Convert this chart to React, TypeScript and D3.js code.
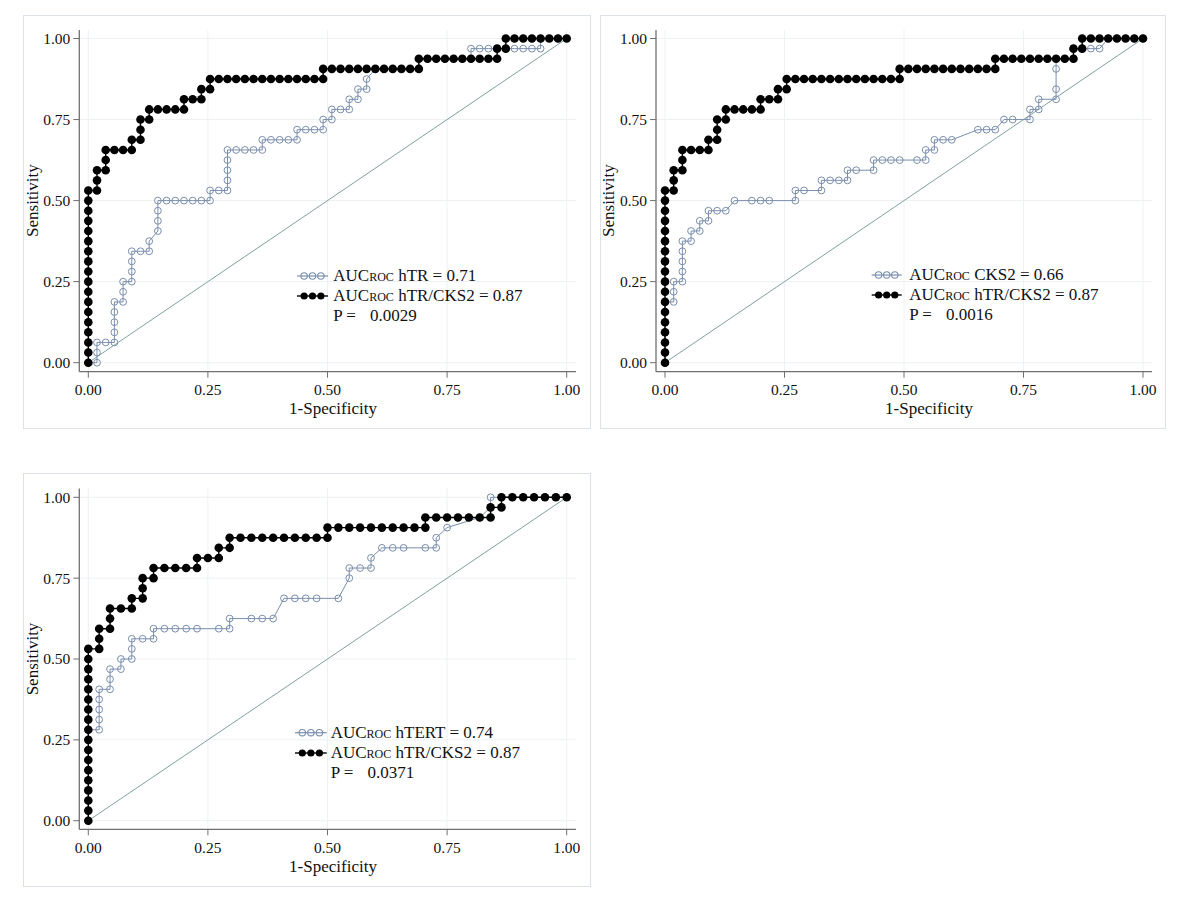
import React from "react";
import * as d3 from "d3";

// ---------- data (counts: false positives, true positives) ----------
const N_POS = 32;
const N_NEG_AB = 55; // panels 1 and 2
const N_NEG_C = 44; // panel 3

// hTR/CKS2 combination, panels 1 and 2
const comboAB: [number, number][] = [
  [0,0],[0,1],[0,2],[0,3],[0,4],[0,5],[0,6],[0,7],[0,8],[0,9],[0,10],[0,11],[0,12],[0,13],[0,14],[0,15],[0,16],[0,17],
  [1,17],[1,18],[1,19],[2,19],[2,20],[2,21],[3,21],[4,21],[5,21],[5,22],[6,22],[6,23],[6,24],[7,24],[7,25],
  [8,25],[9,25],[10,25],[11,25],[11,26],[12,26],[13,26],[13,27],[14,27],[14,28],[15,28],[16,28],[17,28],[18,28],
  [19,28],[20,28],[21,28],[22,28],[23,28],[24,28],[25,28],[26,28],[27,28],[27,29],[28,29],[29,29],[30,29],[31,29],
  [32,29],[33,29],[34,29],[35,29],[36,29],[37,29],[38,29],[38,30],[39,30],[40,30],[41,30],[42,30],[43,30],[44,30],
  [45,30],[46,30],[47,30],[47,31],[48,31],[48,32],[49,32],[50,32],[51,32],[52,32],[53,32],[54,32],[55,32],
];

// hTR alone, panel 1
const hTR: [number, number][] = [
  [0,0],[1,0],[1,1],[1,2],[2,2],[3,2],[3,3],[3,4],[3,5],[3,6],[4,6],[4,7],[4,8],[5,8],[5,9],[5,10],[5,11],[6,11],
  [7,11],[7,12],[8,13],[8,14],[8,15],[8,16],[9,16],[10,16],[11,16],[12,16],[13,16],[14,16],[14,17],[15,17],[16,17],
  [16,18],[16,19],[16,20],[16,21],[17,21],[18,21],[19,21],[20,21],[20,22],[21,22],[22,22],[23,22],[24,22],[24,23],
  [25,23],[26,23],[27,23],[27,24],[28,24],[28,25],[29,25],[30,25],[30,26],[31,26],[31,27],[32,27],[32,28],[33,29],
  [34,29],[35,29],[36,29],[37,29],[38,29],[38,30],[39,30],[40,30],[41,30],[42,30],[43,30],[44,30],[44,31],[45,31],
  [46,31],[47,31],[48,31],[49,31],[50,31],[51,31],[52,31],[52,32],[53,32],[54,32],[55,32],
];

// CKS2 alone, panel 2
const CKS2: [number, number][] = [
  [0,0],[0,1],[0,2],[0,3],[0,4],[0,5],[0,6],[1,6],[1,7],[1,8],[2,8],[2,9],[2,10],[2,11],[2,12],[3,12],[3,13],[4,13],
  [4,14],[5,14],[5,15],[6,15],[7,15],[8,16],[10,16],[11,16],[12,16],[15,16],[15,17],[16,17],[18,17],[18,18],[19,18],
  [20,18],[21,18],[21,19],[22,19],[24,19],[24,20],[25,20],[26,20],[27,20],[29,20],[30,20],[30,21],[31,21],[31,22],
  [32,22],[33,22],[36,23],[37,23],[38,23],[39,24],[40,24],[42,24],[42,25],[43,25],[43,26],[45,26],[45,27],[45,29],
  [45,30],[46,30],[47,30],[47,31],[48,31],[49,31],[50,31],[51,32],[52,32],[53,32],[54,32],[55,32],
];

// hTR/CKS2 combination, panel 3
const comboC: [number, number][] = [
  [0,0],[0,1],[0,2],[0,3],[0,4],[0,5],[0,6],[0,7],[0,8],[0,9],[0,10],[0,11],[0,12],[0,13],[0,14],[0,15],[0,16],[0,17],
  [1,17],[1,18],[1,19],[2,19],[2,20],[2,21],[3,21],[4,21],[4,22],[5,22],[5,23],[5,24],[6,24],[6,25],[7,25],[8,25],
  [9,25],[10,25],[10,26],[11,26],[12,26],[12,27],[13,27],[13,28],[14,28],[15,28],[16,28],[17,28],[18,28],[19,28],
  [20,28],[21,28],[22,28],[22,29],[23,29],[24,29],[25,29],[26,29],[27,29],[28,29],[29,29],[30,29],[31,29],[31,30],
  [32,30],[33,30],[34,30],[35,30],[36,30],[37,30],[37,31],[38,31],[38,32],[39,32],[40,32],[41,32],[42,32],[43,32],[44,32],
];

// hTERT alone, panel 3
const hTERT: [number, number][] = [
  [0,0],[0,1],[0,2],[0,3],[0,4],[0,5],[0,6],[0,7],[0,8],[0,9],[1,9],[1,10],[1,11],[1,12],[1,13],[2,13],[2,14],[2,15],
  [3,15],[3,16],[4,16],[4,17],[4,18],[5,18],[6,18],[6,19],[7,19],[8,19],[9,19],[10,19],[12,19],[13,19],[13,20],
  [15,20],[16,20],[17,20],[18,22],[19,22],[20,22],[21,22],[23,22],[24,24],[24,25],[25,25],[26,25],[26,26],[27,27],
  [28,27],[29,27],[31,27],[32,27],[32,28],[33,29],[36,30],[37,31],[37,32],[38,32],[39,32],[40,32],[41,32],[42,32],
  [43,32],[44,32],
];

const tickValues = [0, 0.25, 0.5, 0.75, 1];
const tickLabels = ["0.00", "0.25", "0.50", "0.75", "1.00"];

const legendBlue = ["hTR = 0.71", "CKS2 = 0.66", "hTERT = 0.74"];
const legendBlack = ["hTR/CKS2 = 0.87", "hTR/CKS2 = 0.87", "hTR/CKS2 = 0.87"];
const pValues = ["0.0029", "0.0016", "0.0371"];

// ---------- styles ----------
const FONT = "'Liberation Serif', 'Times New Roman', serif";
const BLUE = "#7a8eae";
const DIAG = "#7fa29e";
const AXIS = "#707070";
const GRID = "#edf1f4";
const FRAME = "#dde2e6";

type Cfg = {
  frame: [number, number, number, number];
  xr: [number, number];
  yr: [number, number];
  axX: number;
  axY: number;
  axRight: number;
  axTop: number;
  nNeg: number;
  blue: [number, number][];
  black: [number, number][];
  titleX: number;
  leg: { l0: number; l1: number; tx: number; b: [number, number, number] };
  idx: number;
};

const panels: Cfg[] = [
  {
    frame: [23, 15, 590, 428], xr: [88.3, 566.7], yr: [362.7, 38.5], axX: 79.3, axY: 371.7, axRight: 576, axTop: 30,
    nNeg: N_NEG_AB, blue: hTR, black: comboAB, titleX: 333,
    leg: { l0: 297, l1: 328, tx: 333.3, b: [281, 301, 321] }, idx: 0,
  },
  {
    frame: [600, 15, 1165, 428], xr: [665, 1143], yr: [362.7, 38.5], axX: 656, axY: 371.7, axRight: 1152, axTop: 30,
    nNeg: N_NEG_AB, blue: CKS2, black: comboAB, titleX: 929,
    leg: { l0: 871.7, l1: 901.7, tx: 909.3, b: [280, 300, 320] }, idx: 1,
  },
  {
    frame: [23, 473, 590, 886], xr: [88.3, 566.7], yr: [820.7, 497.3], axX: 79.3, axY: 829.3, axRight: 576, axTop: 488.5,
    nNeg: N_NEG_C, blue: hTERT, black: comboC, titleX: 333,
    leg: { l0: 295, l1: 326.7, tx: 330.7, b: [737.7, 758, 777.7] }, idx: 2,
  },
];

function Panel({ c }: { c: Cfg }) {
  const x = d3.scaleLinear().domain([0, 1]).range(c.xr);
  const y = d3.scaleLinear().domain([0, 1]).range(c.yr);
  const xc = d3.scaleLinear().domain([0, c.nNeg]).range(c.xr);
  const yc = d3.scaleLinear().domain([0, N_POS]).range(c.yr);
  const line = d3.line<[number, number]>().x((d) => xc(d[0])).y((d) => yc(d[1]));
  const [fx0, fy0, fx1, fy1] = c.frame;
  const yMid = (c.yr[0] + c.yr[1]) / 2;
  const L = c.leg;
  const mk = [L.l0 + (L.l1 - L.l0) * 0.23, L.l0 + (L.l1 - L.l0) * 0.5, L.l0 + (L.l1 - L.l0) * 0.77];
  return (
    <g>
      <rect x={fx0 + 0.5} y={fy0 + 0.5} width={fx1 - fx0} height={fy1 - fy0} fill="#fff" stroke={FRAME} strokeWidth={1} />
      {/* grid */}
      {tickValues.map((t, i) => (
        <g key={"g" + i}>
          <line x1={c.axX} x2={c.axRight} y1={y(t)} y2={y(t)} stroke={GRID} strokeWidth={1} />
          <line x1={x(t)} x2={x(t)} y1={c.axTop} y2={c.axY} stroke={GRID} strokeWidth={1} />
        </g>
      ))}
      {/* diagonal reference */}
      <line x1={x(0)} y1={y(0)} x2={x(1)} y2={y(1)} stroke={DIAG} strokeWidth={1} />
      {/* axes */}
      <line x1={c.axX} x2={c.axX} y1={c.axTop} y2={c.axY} stroke={AXIS} strokeWidth={1.3} />
      <line x1={c.axX} x2={c.axRight} y1={c.axY} y2={c.axY} stroke={AXIS} strokeWidth={1.3} />
      {tickValues.map((t, i) => (
        <g key={"t" + i}>
          <line x1={c.axX - 6} x2={c.axX} y1={y(t)} y2={y(t)} stroke={AXIS} strokeWidth={1} />
          <text x={c.axX - 9} y={y(t)} dy="0.35em" textAnchor="end" fontFamily={FONT} fontSize={15.5} fill="#111">
            {tickLabels[i]}
          </text>
          <line x1={x(t)} x2={x(t)} y1={c.axY} y2={c.axY + 6} stroke={AXIS} strokeWidth={1} />
          <text x={x(t)} y={c.axY + 23.3} textAnchor="middle" fontFamily={FONT} fontSize={15.5} fill="#111">
            {tickLabels[i]}
          </text>
        </g>
      ))}
      <text x={c.titleX} y={c.axY + 42.5} textAnchor="middle" fontFamily={FONT} fontSize={17} fill="#111">
        1-Specificity
      </text>
      <text
        transform={`translate(${c.axX - 41.8},${yMid}) rotate(-90)`}
        textAnchor="middle"
        fontFamily={FONT}
        fontSize={17}
        fill="#111"
      >
        Sensitivity
      </text>
      {/* blue series */}
      <path d={line(c.blue) || ""} fill="none" stroke={BLUE} strokeWidth={1} />
      {c.blue.map((d, i) => (
        <circle key={"b" + i} cx={xc(d[0])} cy={yc(d[1])} r={3.4} fill="none" stroke={BLUE} strokeWidth={1} />
      ))}
      {/* black series */}
      <path d={line(c.black) || ""} fill="none" stroke="#000" strokeWidth={1.4} />
      {c.black.map((d, i) => (
        <circle key={"k" + i} cx={xc(d[0])} cy={yc(d[1])} r={4.3} fill="#000" />
      ))}
      {/* legend */}
      <line x1={L.l0} x2={L.l1} y1={L.b[0] - 5} y2={L.b[0] - 5} stroke={BLUE} strokeWidth={1.2} />
      {mk.map((m, i) => (
        <circle key={"lb" + i} cx={m} cy={L.b[0] - 5} r={3.2} fill="none" stroke={BLUE} strokeWidth={1.1} />
      ))}
      <line x1={L.l0} x2={L.l1} y1={L.b[1] - 5} y2={L.b[1] - 5} stroke="#000" strokeWidth={1.4} />
      {mk.map((m, i) => (
        <circle key={"lk" + i} cx={m} cy={L.b[1] - 5} r={3.6} fill="#000" />
      ))}
      <text x={L.tx} y={L.b[0]} fontFamily={FONT} fontSize={17} fill="#111">
        AUC<tspan fontSize={12}>ROC</tspan> {legendBlue[c.idx]}
      </text>
      <text x={L.tx} y={L.b[1]} fontFamily={FONT} fontSize={17} fill="#111">
        AUC<tspan fontSize={12}>ROC</tspan> {legendBlack[c.idx]}
      </text>
      <text x={L.tx} y={L.b[2]} fontFamily={FONT} fontSize={17} fill="#111">
        P =
      </text>
      <text x={L.tx + 36.7} y={L.b[2]} fontFamily={FONT} fontSize={17} fill="#111">
        {pValues[c.idx]}
      </text>
    </g>
  );
}

export default function App() {
  return (
    <svg
      width={1200}
      height={912}
      style={{ position: "absolute", left: 0, top: 0, background: "#fff" }}
      xmlns="http://www.w3.org/2000/svg"
    >
      <rect x={0} y={0} width={1200} height={912} fill="#fff" />
      {panels.map((c) => (
        <Panel key={c.idx} c={c} />
      ))}
    </svg>
  );
}
